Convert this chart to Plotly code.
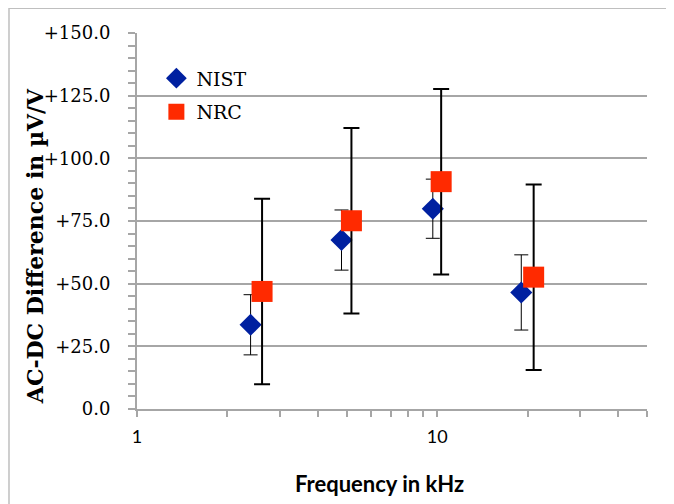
import plotly.graph_objects as go

# ---- data ----
nist_freq = [2.39, 4.80, 9.67, 19.06]
nist_diff = [33.6, 67.4, 79.9, 46.5]
nist_unc = [12.0, 12.0, 11.8, 15.0]

nrc_freq = [2.61, 5.18, 10.31, 20.96]
nrc_diff = [46.9, 75.1, 90.7, 52.6]
nrc_unc = [37.0, 37.0, 37.0, 37.0]

x_tickvals = [1, 2, 3, 4, 5, 6, 7, 8, 9, 10, 20, 30, 40, 50]
x_ticktext = ["1", "", "", "", "", "", "", "", "", "10", "", "", "", ""]
y_tickvals = [0, 25, 50, 75, 100, 125, 150]
y_ticktext = ["0.0", "+25.0", "+50.0", "+75.0", "+100.0", "+125.0", "+150.0"]

GRID = "#A6A6A6"
SERIF = "DejaVu Serif"
SANS = "Lato"

fig = go.Figure()
fig.add_trace(go.Scatter(
    x=nist_freq, y=nist_diff, mode="markers", name="NIST",
    marker=dict(symbol="diamond", size=17, color="#0020A0"),
    error_y=dict(type="data", array=nist_unc, color="black", thickness=1, width=7),
    legendgroup="a",
))
fig.add_trace(go.Scatter(
    x=nrc_freq, y=nrc_diff, mode="markers", name="NRC",
    marker=dict(symbol="square", size=21, color="#FF2A00"),
    error_y=dict(type="data", array=nrc_unc, color="black", thickness=2, width=8),
    legendgroup="b",
))

fig.update_layout(
    width=674, height=504,
    margin=dict(l=129, r=35, t=25, b=103),
    plot_bgcolor="white", paper_bgcolor="white",
    showlegend=True,
    legend=dict(x=0.038, y=0.93, xanchor="left", yanchor="top",
                bgcolor="rgba(0,0,0,0)", font=dict(family=SERIF, size=19, color="black"),
                tracegroupgap=6),
    xaxis=dict(type="log", range=[0, 1.69897], tickvals=x_tickvals, ticktext=x_ticktext,
               showgrid=False, showline=True, linecolor=GRID, linewidth=2,
               ticks="outside", ticklen=6, tickwidth=2, tickcolor=GRID,
               ticklabelstandoff=4,
               tickfont=dict(family=SANS, size=18, color="black"), zeroline=False),
    yaxis=dict(range=[0, 150], tickvals=y_tickvals, ticktext=y_ticktext,
               showgrid=True, gridcolor=GRID, gridwidth=1.5,
               showline=True, linecolor=GRID, linewidth=2,
               ticks="outside", ticklen=7, tickwidth=2, tickcolor=GRID,
               minor=dict(dtick=5, ticks="outside", ticklen=7, tickwidth=2, tickcolor=GRID, showgrid=False),
               ticklabelstandoff=14,
               tickfont=dict(family=SERIF, size=18, color="black"), zeroline=False),
    annotations=[
        dict(text="<b>AC-DC Difference in µV/V</b>", xref="paper", yref="paper",
             x=-0.20, y=0.433, xanchor="center", yanchor="middle", textangle=-90, showarrow=False,
             font=dict(family=SERIF, size=22, color="black")),
        dict(text="<b>Frequency in kHz</b>", xref="paper", yref="paper",
             x=0.475, y=-0.198, xanchor="center", yanchor="middle", showarrow=False,
             font=dict(family=SANS, size=22, color="black")),
    ],
    shapes=[dict(type="rect", xref="paper", yref="paper",
                 x0=-0.251, x1=1.2, y0=-0.4, y1=1.066,
                 line=dict(color="#BFBFBF", width=1.5), fillcolor="rgba(0,0,0,0)", layer="below")],
)

fig.write_html("out.html")
